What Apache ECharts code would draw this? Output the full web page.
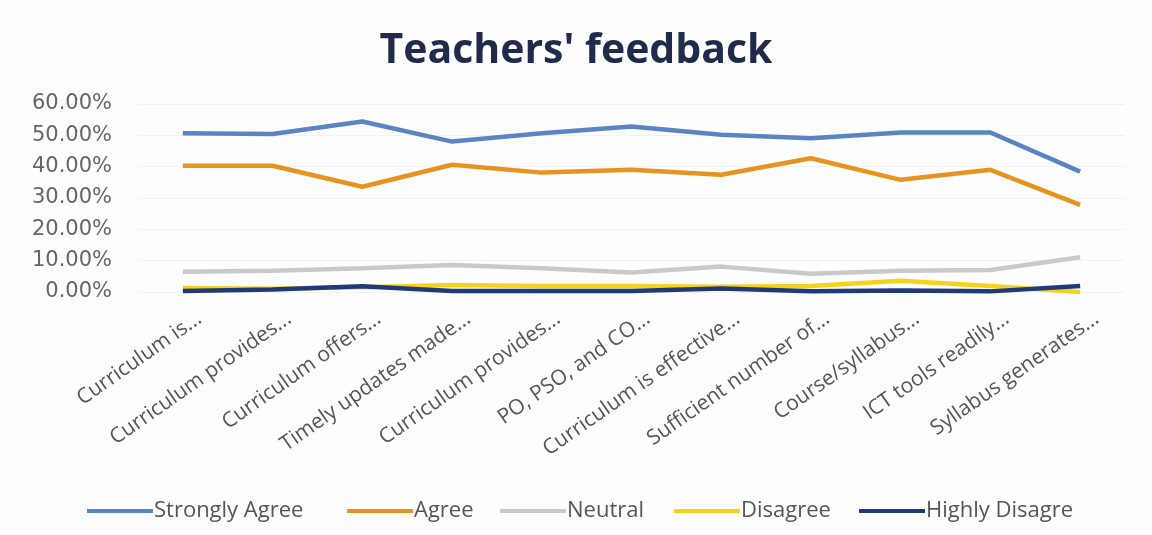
<!DOCTYPE html>
<html>
<head>
<meta charset="utf-8">
<script src="https://cdn.jsdelivr.net/npm/echarts@6/dist/echarts.min.js"></script>
<style>html,body{margin:0;padding:0;background:#fdfdfd;}#chart{width:1152px;height:535px;}</style>
</head>
<body>
<div id="chart"></div>
<script>
const categories = ["Curriculum is...", "Curriculum provides...", "Curriculum offers...", "Timely updates made...", "Curriculum provides...", "PO, PSO, and CO...", "Curriculum is effective...", "Sufficient number of...", "Course/syllabus...", "ICT tools readily...", "Syllabus generates..."];
const stronglyAgree = [50.7, 50.4, 54.4, 48.0, 50.7, 52.8, 50.2, 49.1, 50.9, 50.9, 38.4];
const agree = [40.3, 40.3, 33.6, 40.6, 38.1, 39.0, 37.4, 42.7, 35.8, 39.0, 27.8];
const neutral = [6.5, 6.8, 7.6, 8.6, 7.6, 6.2, 8.1, 5.8, 6.8, 7.0, 11.1];
const disagree = [1.3, 1.0, 1.5, 2.2, 1.9, 1.9, 1.7, 1.9, 3.6, 1.9, 0.0];
const highlyDisagree = [0.3, 0.8, 1.8, 0.3, 0.3, 0.3, 1.1, 0.2, 0.5, 0.2, 1.9];
const seriesNames = ["Strongly Agree", "Agree", "Neutral", "Disagree", "Highly Disagre"];
const colors = ["#5B84C4", "#E8921F", "#C9C9C9", "#F7D21A", "#1F3A78"];
const legendLefts = [82, 342, 495, 669, 854];

const chart = echarts.init(document.getElementById('chart'));
const dataSets = [stronglyAgree, agree, neutral, disagree, highlyDisagree];
chart.setOption({
  backgroundColor: '#fdfdfd',
  animation: false,
  color: colors,
  title: {
    text: "Teachers' feedback",
    left: 'center',
    top: 26,
    textStyle: { fontFamily: 'Open Sans', fontWeight: 'bold', fontSize: 41, color: '#1f2b4a' }
  },
  legend: seriesNames.map((n, i) => ({
    left: legendLefts[i],
    top: 495,
    itemWidth: 66,
    itemHeight: 4,
    icon: 'rect',
    textStyle: { fontFamily: 'Open Sans', fontSize: 22, color: '#555', padding: [0,0,0,-4] },
    data: [n]
  })),
  grid: { left: 138, right: 27, top: 104, bottom: 243 },
  xAxis: {
    type: 'category',
    data: categories,
    boundaryGap: true,
    axisLine: { show: false },
    axisTick: { show: false },
    axisLabel: { rotate: 35, margin: 36, padding: [0, -20, 0, 0], fontFamily: 'Open Sans', fontSize: 21, color: '#555', interval: 0 }
  },
  yAxis: {
    type: 'value',
    min: 0, max: 60, interval: 10,
    axisLabel: { formatter: v => v.toFixed(2) + '%', fontFamily: 'DejaVu Sans', fontSize: 21, color: '#666', margin: 26 },
    splitLine: { lineStyle: { color: '#f2f2f2', width: 1 } },
    axisLine: { show: false },
    axisTick: { show: false }
  },
  series: seriesNames.map((n, i) => ({
    name: n,
    type: 'line',
    data: dataSets[i],
    symbol: 'none',
    lineStyle: { width: 4.5, color: colors[i] }
  }))
});
</script>
</body>
</html>
